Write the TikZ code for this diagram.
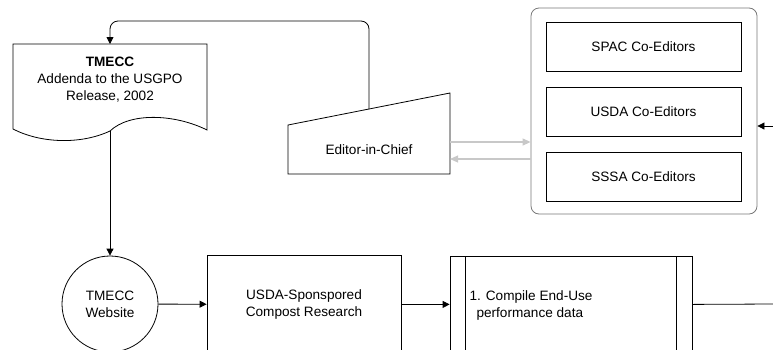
\documentclass[tikz,border=0pt]{standalone}
\usepackage{fontspec}
\setmainfont{Liberation Sans}
\usetikzlibrary{arrows.meta,positioning}
\definecolor{lightgrey}{RGB}{200,200,200}
\definecolor{framegrey}{RGB}{120,120,120}
\tikzset{
  every node/.style={font=\fontsize{13.6}{17}\selectfont, align=center},
  flowline/.style={-{Triangle[length=7pt,width=7pt]}, line width=0.8pt},
  greyline/.style={-{Triangle[length=8pt,width=7pt]}, line width=1.1pt, draw=lightgrey},
  box/.style={draw, line width=0.8pt, rectangle, inner sep=0pt},
}
\begin{document}
\begin{tikzpicture}[x=1pt,y=-1pt]
    \useasboundingbox (0,0) rectangle (773,349);
    % document with wavy bottom
    \draw[line width=0.8pt] (13,44) -- (207,44) -- (207,130)
        .. controls (175,114) and (130,112) .. (110,131)
        .. controls (80,145) and (40,143) .. (13,129) -- cycle;
    \node (doc) at (110,80) {\textbf{TMECC}\\Addenda to the USGPO\\Release, 2002};
    \coordinate (doc-top) at (110,44);
    \coordinate (doc-bot) at (110,131);
    % manual input
    \draw[line width=0.8pt] (288,125) -- (450,93) -- (450,174) -- (288,174) -- cycle;
    \node (editor) at (369,150) {Editor-in-Chief};
    \coordinate (editor-top) at (369,109);
    \coordinate (editor-out) at (450,142);
    \coordinate (editor-in) at (450,159);
    \coordinate (loop) at (110,21);
    \draw[flowline, rounded corners=8pt] (editor-top) |- (loop) -- (doc-top);
    % co-editors group
    \node[draw=framegrey, line width=0.8pt, rounded corners=8pt, minimum width=226pt,
        minimum height=206pt] (editors) at (644,111) {};
    \node[box, minimum width=195pt, minimum height=49pt] (spac) at (643.5,46.5) {SPAC Co-Editors};
    \node[box, minimum width=195pt, minimum height=49pt] (usda) at (643.5,111.5) {USDA Co-Editors};
    \node[box, minimum width=195pt, minimum height=49pt] (sssa) at (643.5,176.5) {SSSA Co-Editors};
    \draw[greyline] (editor-out) -- (editor-out -| editors.west);
    \draw[greyline] (editor-in -| editors.west) -- (editor-in);
    \coordinate (feed) at (773,126);
    \draw[flowline] (feed) -- (feed -| editors.east);
    % bottom row
    \node[draw, circle, minimum size=96pt, inner sep=0pt, line width=0.8pt] (web) at (110,304) {TMECC\\Website};
    \draw[flowline] (doc-bot) -- (web);
    \node[box, minimum width=194pt, minimum height=98pt, anchor=north] (research) at (304,255)
        {USDA-Sponspored\\Compost Research};
    \draw[flowline] (web) -- (research);
    \node[box, minimum width=242pt, minimum height=96pt, anchor=north] (compile) at (571,256) {};
    \draw[line width=0.8pt] (compile.north west) ++(16,0) -- ++(0,96);
    \draw[line width=0.8pt] (compile.north east) ++(-16,0) -- ++(0,96);
    \node[anchor=west, align=left] (compile-text) at (466,305)
        {1. Compile End-Use\\\hspace*{7pt}performance data};
    \draw[flowline] (research.east) -- (research.east -| compile.west);
    \coordinate (exit) at (773,304);
    \draw[line width=0.8pt] (compile.east) -- (exit);
\end{tikzpicture}
\end{document}
